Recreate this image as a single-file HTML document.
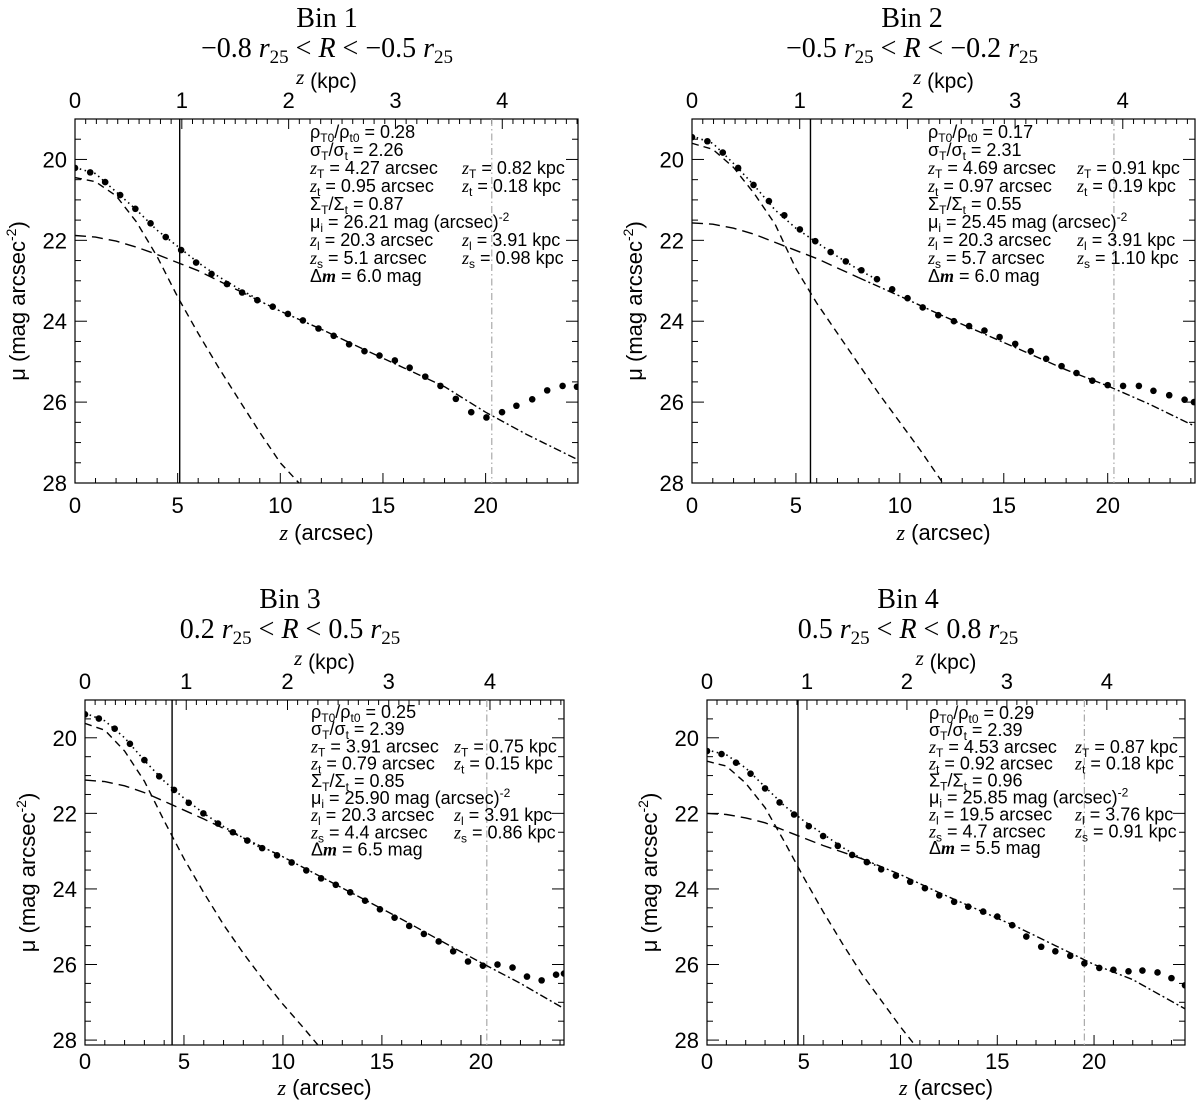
<!DOCTYPE html>
<html><head><meta charset="utf-8">
<style>
html,body{margin:0;padding:0;background:#fff;}
svg{display:block;}
text{font-family:"Liberation Sans",sans-serif;fill:#000;}
.serif{font-family:"Liberation Serif",serif;}
</style></head>
<body>
<svg id="fig" width="1200" height="1103" viewBox="0 0 1200 1103" xmlns="http://www.w3.org/2000/svg"></svg>
<script>
// ---------- data ----------
const dotZ1=[0,0.74,1.47,2.2,2.94,3.68,4.42,5.17,5.9,6.65,7.4,8.14,8.88,9.63,10.37,11.1,11.86,12.6,13.35,14.1,14.83,15.58,16.3,17.06,17.8,18.55,19.3,20.04,20.8,21.5,22.27,23.0,23.75,24.45];
const dotMu1=[20.21,20.32,20.56,20.88,21.22,21.58,21.92,22.24,22.55,22.83,23.08,23.29,23.48,23.64,23.82,23.98,24.18,24.36,24.57,24.74,24.85,24.97,25.15,25.37,25.6,25.92,26.25,26.38,26.25,26.09,25.93,25.71,25.6,25.62];
const dotZ2=[0,0.74,1.48,2.22,2.96,3.7,4.44,5.19,5.93,6.67,7.4,8.15,8.9,9.63,10.37,11.1,11.85,12.6,13.33,14.07,14.8,15.55,16.3,17.04,17.78,18.5,19.26,20.0,20.74,21.5,22.2,22.96,23.7,24.15];
const dotMu2=[19.45,19.55,19.83,20.21,20.63,21.03,21.38,21.73,22.02,22.29,22.52,22.74,22.96,23.21,23.43,23.66,23.85,24.0,24.12,24.23,24.39,24.56,24.74,24.93,25.11,25.28,25.47,25.58,25.6,25.6,25.72,25.83,25.94,26.0];
const dotZ3=[0,0.7,1.5,2.27,3.0,3.75,4.5,5.24,5.98,6.72,7.47,8.2,8.95,9.7,10.44,11.18,11.93,12.67,13.4,14.15,14.9,15.64,16.38,17.12,17.87,18.6,19.35,20.1,20.84,21.6,22.33,23.07,23.8,24.2];
const dotMu3=[19.38,19.49,19.76,20.16,20.59,21.02,21.38,21.72,22.0,22.27,22.5,22.72,22.92,23.11,23.3,23.51,23.72,23.89,24.09,24.31,24.54,24.76,24.98,25.19,25.39,25.65,25.92,26.03,26.0,26.08,26.32,26.42,26.27,26.24];
const dotZ4=[0,0.75,1.5,2.25,3.0,3.75,4.5,5.26,6.0,6.76,7.5,8.26,9.0,9.76,10.5,11.26,12.0,12.77,13.5,14.27,15.0,15.77,16.5,17.27,18.0,18.77,19.5,20.27,21.0,21.78,22.5,23.28,24.0,24.7];
const dotMu4=[20.35,20.43,20.66,20.95,21.34,21.71,22.03,22.34,22.6,22.86,23.1,23.29,23.48,23.65,23.81,23.98,24.17,24.34,24.47,24.6,24.73,24.96,25.26,25.53,25.65,25.77,25.97,26.09,26.14,26.18,26.16,26.21,26.36,26.55];

const thinZ=[0,1,2,3,4,5,6,7,8,9,10,11,12.2];
const thinMu1=[20.45,20.55,20.9,21.55,22.4,23.4,24.3,25.15,25.95,26.75,27.5,28.05,28.7];
const thinMu2=[19.6,19.75,20.2,20.85,21.6,22.7,23.55,24.3,25.05,25.8,26.5,27.2,28.1];
const thinMu3=[19.62,19.8,20.35,21.15,22.2,23.2,24.1,24.95,25.7,26.4,27.05,27.65,28.4];
const thinMu4=[20.62,20.75,21.2,21.85,22.75,23.7,24.6,25.45,26.25,26.95,27.65,28.3,29.0];

const thickZ=[0,1,2,3,4,6,8,10,12,14,16,18,20,22,24.8];
const thickMu1=[21.88,21.92,22.02,22.17,22.35,22.75,23.25,23.75,24.2,24.68,25.15,25.62,26.25,26.8,27.5];
const thickMu2=[21.57,21.6,21.7,21.85,22.05,22.45,22.92,23.38,23.85,24.3,24.75,25.2,25.6,26.05,26.75];
const thickMu3=[21.12,21.16,21.27,21.45,21.68,22.15,22.65,23.15,23.7,24.25,24.8,25.38,25.95,26.5,27.35];
const thickMu4=[22.0,22.03,22.12,22.25,22.45,22.85,23.2,23.62,24.1,24.55,25.0,25.5,26.0,26.4,27.2];

const totZ=[0,1,2,3,4,5,6,7,8,9];
const totMu1=[20.2,20.35,20.8,21.25,21.75,22.15,22.55,22.9,23.2,23.48];
const totMu2=[19.42,19.6,20.1,20.65,21.25,21.7,22.05,22.4,22.72,23.0];
const totMu3=[19.35,19.55,20.0,20.6,21.15,21.6,22.0,22.35,22.65,22.95];
const totMu4=[20.32,20.45,20.8,21.3,21.8,22.2,22.55,22.9,23.2,23.45];

const zsVals=[5.1,5.7,4.4,4.7];
const zlVals=[20.3,20.3,20.3,19.5];
const kpcPerArcsec=[0.1922,0.1930,0.1955,0.1936];
const kpcTicks=[0,1,2,3,4];
const arcTicks=[0,5,10,15,20];
const muTicks=[20,22,24,26,28];
const binTitles=["Bin 1","Bin 2","Bin 3","Bin 4"];

// ---------- layout ----------
const NS="http://www.w3.org/2000/svg";
const svg=document.getElementById('fig');
const panels=[
 {L:75,R:578,T:119,B:483,xmax:24.5,ymin:19,ymax:28.0,tx:235,rx:387,ty:132,dy:18,titleX:327,xl:30,xt:57,
  dots:[dotZ1,dotMu1],thin:thinMu1,thick:thickMu1,tot:totMu1,
  r:['−0.8','−0.5']},
 {L:692,R:1195,T:119,B:483,xmax:24.2,ymin:19,ymax:28.0,tx:236,rx:385,ty:132,dy:18,titleX:912,xl:30,xt:57,
  dots:[dotZ2,dotMu2],thin:thinMu2,thick:thickMu2,tot:totMu2,
  r:['−0.5','−0.2']},
 {L:85,R:564,T:700,B:1045,xmax:24.2,ymin:19,ymax:28.13,tx:226,rx:369,ty:712,dy:17.2,titleX:290,xl:24,xt:50,
  dots:[dotZ3,dotMu3],thin:thinMu3,thick:thickMu3,tot:totMu3,
  r:['0.2','0.5']},
 {L:707,R:1185,T:700,B:1045,xmax:24.7,ymin:19,ymax:28.13,tx:222,rx:368,ty:713,dy:16.9,titleX:908,xl:24,xt:50,
  dots:[dotZ4,dotMu4],thin:thinMu4,thick:thickMu4,tot:totMu4,
  r:['0.5','0.8']}
];
const texts=[
 ['0.28','2.26','4.27','0.82','0.95','0.18','0.87','26.21','20.3','3.91','5.1','0.98','6.0'],
 ['0.17','2.31','4.69','0.91','0.97','0.19','0.55','25.45','20.3','3.91','5.7','1.10','6.0'],
 ['0.25','2.39','3.91','0.75','0.79','0.15','0.85','25.90','20.3','3.91','4.4','0.86','6.5'],
 ['0.29','2.39','4.53','0.87','0.92','0.18','0.96','25.85','19.5','3.76','4.7','0.91','5.5']
];

function el(tag,attrs,parent){const e=document.createElementNS(NS,tag);for(const k in attrs)e.setAttribute(k,attrs[k]);(parent||svg).appendChild(e);return e;}

panels.forEach((p,i)=>{
  const g=el('g',{});
  
  
  const xs=z=>p.L+(z/p.xmax)*(p.R-p.L);
  const ys=m=>p.T+(m-p.ymin)/(p.ymax-p.ymin)*(p.B-p.T);
  const cx=(p.L+p.R)/2;
  const cp=el('clipPath',{id:'clip'+i},g);
  el('rect',{x:p.L,y:p.T,width:p.R-p.L,height:p.B-p.T},cp);
  const t1=el('text',{x:p.titleX,y:p.T-92,'text-anchor':'middle','font-size':'28',class:'serif'},g);
  t1.textContent=binTitles[i];
  
  
  const t2=el('text',{x:p.titleX,y:p.T-62,'text-anchor':'middle','font-size':'28',class:'serif'},g);
  t2.innerHTML=p.r[0]+'<tspan font-style="italic"> r</tspan><tspan font-size="19" dy="6">25</tspan><tspan dy="-6"> &lt; </tspan><tspan font-style="italic">R</tspan> &lt; '+p.r[1]+'<tspan font-style="italic"> r</tspan><tspan font-size="19" dy="6">25</tspan>';
  
  
  const kt=el('text',{x:cx,y:p.T-31,'text-anchor':'middle','font-size':'21'},g);
  kt.innerHTML='<tspan class="serif" font-style="italic" dy="-4">z</tspan><tspan dy="4"> (kpc)</tspan>';
  
  
  const bt=el('text',{x:cx,y:p.B+p.xt,'text-anchor':'middle','font-size':'22'},g);
  bt.innerHTML='<tspan class="serif" font-style="italic">z</tspan> (arcsec)';
  
  
  const yt=el('text',{x:0,y:0,'text-anchor':'middle','font-size':'22',transform:`translate(${p.L-50},${(p.T+p.B)/2}) rotate(-90)`},g);
  yt.innerHTML='μ (mag arcsec<tspan font-size="14" dy="-9">-2</tspan><tspan dy="9">)</tspan>';
  
  
  const tk=el('g',{stroke:'#000','stroke-width':'1'},g);
  
  
  for(let z=0;z<=p.xmax+1e-9;z+=1){
    const x=xs(z),L=(z%5===0)?10:5;
    el('line',{x1:x,y1:p.B,x2:x,y2:p.B-L},tk);
  }
  const kr=kpcPerArcsec[i];
  for(let k=0;k<=p.xmax*kr+1e-9;k+=0.1){
    const x=xs(k/kr),major=Math.abs(k-Math.round(k))<1e-6,L=major?10:5;
    el('line',{x1:x,y1:p.T,x2:x,y2:p.T+L},tk);
  }
  for(let m=19;m<=p.ymax+1e-9;m+=0.5){
    const y=ys(m),major=Math.abs(m%2)<1e-6,L=major?12:6;
    el('line',{x1:p.L,y1:y,x2:p.L+L,y2:y},tk);
    el('line',{x1:p.R,y1:y,x2:p.R-L,y2:y},tk);
  }
  arcTicks.forEach(v=>{const t=el('text',{x:xs(v),y:p.B+p.xl,'text-anchor':'middle','font-size':'22'},g);t.textContent=v;
    });
  kpcTicks.forEach(v=>{const t=el('text',{x:xs(v/kr),y:p.T-11,'text-anchor':'middle','font-size':'22'},g);t.textContent=v;
    });
  muTicks.forEach(v=>{const t=el('text',{x:p.L-8,y:ys(v)+8,'text-anchor':'end','font-size':'22'},g);t.textContent=v;
    });
  const fr=el('rect',{x:p.L,y:p.T,width:p.R-p.L,height:p.B-p.T,fill:'none',stroke:'#000','stroke-width':'1.2'},g);
  
  
  const pg=el('g',{'clip-path':`url(#clip${i})`},g);
  const vs=el('line',{x1:xs(zsVals[i]),y1:p.T,x2:xs(zsVals[i]),y2:p.B,stroke:'#000','stroke-width':'1.4'},pg);
  
  
  const vl=el('line',{x1:xs(zlVals[i]),y1:p.T,x2:xs(zlVals[i]),y2:p.B,stroke:'#aaa','stroke-width':'1.2','stroke-dasharray':'7,3,1.5,3'},pg);
  
  
  const path=(zArr,mArr,f)=>zArr.map((z,j)=>[z,mArr[j]]).filter(f||(()=>true)).map((d,j)=>(j?'L':'M')+xs(d[0]).toFixed(1)+','+ys(d[1]).toFixed(1)).join('');
  const thin=el('path',{d:path(thinZ,p.thin),fill:'none',stroke:'#000','stroke-width':'1.4','stroke-dasharray':'7,5'},pg);
  
  
  const thickA=el('path',{d:path(thickZ,p.thick,d=>d[0]<=8),fill:'none',stroke:'#000','stroke-width':'1.4','stroke-dasharray':'11,6'},pg);
  
  
  const thickB=el('path',{d:path(thickZ,p.thick,d=>d[0]>=8),fill:'none',stroke:'#000','stroke-width':'1.4','stroke-dasharray':'8,3,2,3'},pg);
  
  
  const tot=el('path',{d:path(totZ,p.tot),fill:'none',stroke:'#000','stroke-width':'1.6','stroke-dasharray':'1.5,3.5'},pg);
  
  
  p.dots[0].forEach((z,j)=>{
    const c=el('circle',{cx:xs(z),cy:ys(p.dots[1][j]),r:3.3,fill:'#000'},pg);
    
    
  });
  const a=texts[i];
  const ax=p.L+p.tx, rx=p.L+p.rx;
  const lines=[
   `ρ<tspan font-size="12" dy="4">T0</tspan><tspan dy="-4">/ρ</tspan><tspan font-size="12" dy="4">t0</tspan><tspan dy="-4"> = ${a[0]}</tspan>`,
   `σ<tspan font-size="12" dy="4">T</tspan><tspan dy="-4">/σ</tspan><tspan font-size="12" dy="4">t</tspan><tspan dy="-4"> = ${a[1]}</tspan>`,
   `<tspan class="serif" font-style="italic">z</tspan><tspan font-size="12" dy="4">T</tspan><tspan dy="-4"> = ${a[2]} arcsec</tspan>`,
   `<tspan class="serif" font-style="italic">z</tspan><tspan font-size="12" dy="4">t</tspan><tspan dy="-4"> = ${a[4]} arcsec</tspan>`,
   `Σ<tspan font-size="12" dy="4">T</tspan><tspan dy="-4">/Σ</tspan><tspan font-size="12" dy="4">t</tspan><tspan dy="-4"> = ${a[6]}</tspan>`,
   `μ<tspan font-size="12" dy="4">i</tspan><tspan dy="-4"> = ${a[7]} mag (arcsec)</tspan><tspan font-size="12" dy="-7">-2</tspan>`,
   `<tspan class="serif" font-style="italic">z</tspan><tspan font-size="12" dy="4">l</tspan><tspan dy="-4"> = ${a[8]} arcsec</tspan>`,
   `<tspan class="serif" font-style="italic">z</tspan><tspan font-size="12" dy="4">s</tspan><tspan dy="-4"> = ${a[10]} arcsec</tspan>`,
   `Δ<tspan class="serif" font-style="italic" font-weight="bold">m</tspan> = ${a[12]} mag`
  ];
  const right=[[2,`<tspan class="serif" font-style="italic">z</tspan><tspan font-size="12" dy="4">T</tspan><tspan dy="-4"> = ${a[3]} kpc</tspan>`],
   [3,`<tspan class="serif" font-style="italic">z</tspan><tspan font-size="12" dy="4">t</tspan><tspan dy="-4"> = ${a[5]} kpc</tspan>`],
   [6,`<tspan class="serif" font-style="italic">z</tspan><tspan font-size="12" dy="4">l</tspan><tspan dy="-4"> = ${a[9]} kpc</tspan>`],
   [7,`<tspan class="serif" font-style="italic">z</tspan><tspan font-size="12" dy="4">s</tspan><tspan dy="-4"> = ${a[11]} kpc</tspan>`]];
  const ann=el('g',{'font-size':'18'},g);
  
  
  lines.forEach((l,j)=>{const t=el('text',{x:ax,y:p.ty+j*p.dy+6},ann);t.innerHTML=l;
    });
  right.forEach(r=>{const t=el('text',{x:rx,y:p.ty+r[0]*p.dy+6},ann);t.innerHTML=r[1];
    });
});
</script>
</body></html>
